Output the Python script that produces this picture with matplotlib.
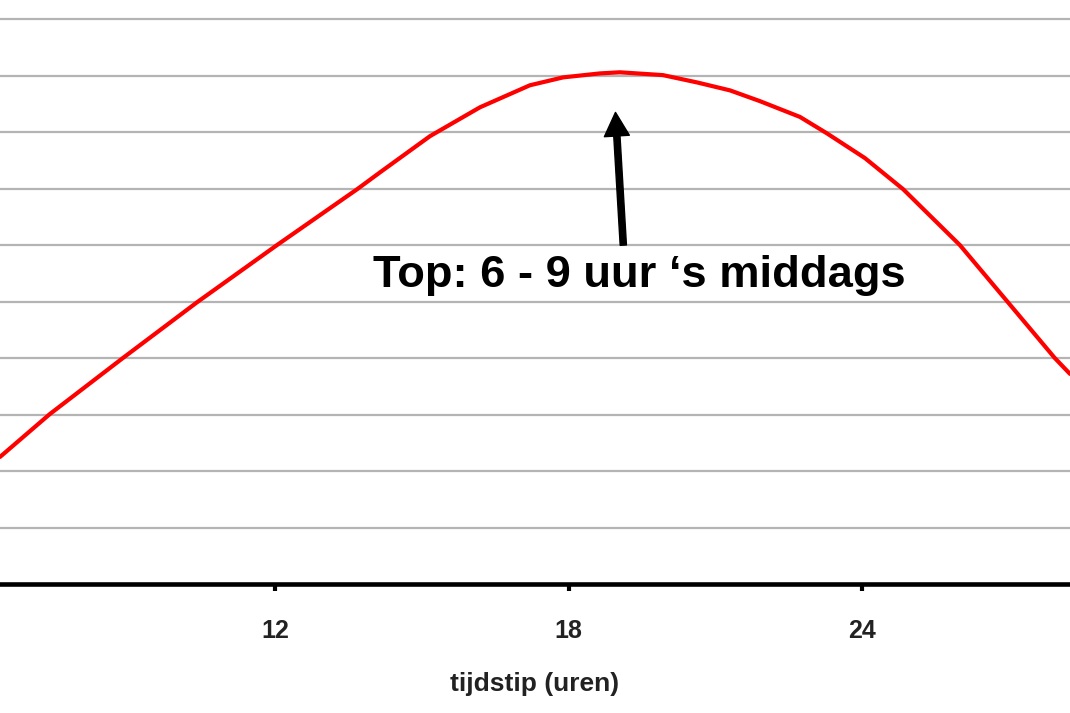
import matplotlib
matplotlib.use("Agg")
import matplotlib.pyplot as plt

plt.rcParams['font.family'] = ['Liberation Sans', 'DejaVu Sans']

# curve: hour of day vs. level (grid units)
hours = [6.38, 7.40, 8.89, 10.41, 12.04, 13.68, 14.15, 15.17, 16.19, 17.21,
         17.89, 18.64, 19.05, 19.93, 20.63, 21.30, 21.91, 22.73, 23.28, 24.06,
         24.84, 26.00, 26.98, 27.94, 28.25]
level = [2.25, 3.01, 4.00, 4.99, 6.00, 6.99, 7.29, 7.93, 8.44, 8.83,
         8.97, 9.04, 9.06, 9.01, 8.88, 8.74, 8.55, 8.27, 7.98, 7.54,
         6.99, 6.00, 4.99, 4.00, 3.72]

tick_pos = [12, 18, 24]
tick_lbl = ['12', '18', '24']
grid_vals = [1, 2, 3, 4, 5, 6, 7, 8, 9, 10]

note = 'Top: 6 - 9 uur \u2018s middags'
x_label = 'tijdstip (uren)'

fig = plt.figure(figsize=(10.7, 7.13), dpi=100)
ax = fig.add_axes([0, 0.1809, 1, 0.8191])

for g in grid_vals:
    ax.axhline(g, color='#b4b4b4', lw=1.6, zorder=1)

ax.plot(hours, level, color='#ff0000', lw=3, zorder=3,
        solid_capstyle='round', solid_joinstyle='round')

for s in ['top', 'left', 'right']:
    ax.spines[s].set_visible(False)
ax.spines['bottom'].set_linewidth(3.3)
ax.spines['bottom'].set_color('black')
ax.spines['bottom'].set_zorder(4)

ax.set_yticks([])
ax.set_xticks(tick_pos)
ax.set_xticklabels(tick_lbl, fontsize=18, fontweight='bold', color='#222222')
ax.tick_params(axis='x', direction='out', length=5, width=3, pad=20, color='black')
ax.set_xlabel(x_label, fontsize=19, fontweight='bold', color='#222222', labelpad=21)

ax.set_xlim(6.38, 28.25)
ax.set_ylim(0, 10.34)

ax.annotate('', xy=(18.96, 8.35), xytext=(19.12, 6.0),
            arrowprops=dict(facecolor='black', edgecolor='black', width=4.5,
                            headwidth=18, headlength=17, shrink=0), zorder=5)
ax.text(14.0, 5.25, note, fontsize=32.6, fontweight='bold', color='black',
        ha='left', va='baseline', zorder=5)

fig.savefig('out.png', dpi=100)
